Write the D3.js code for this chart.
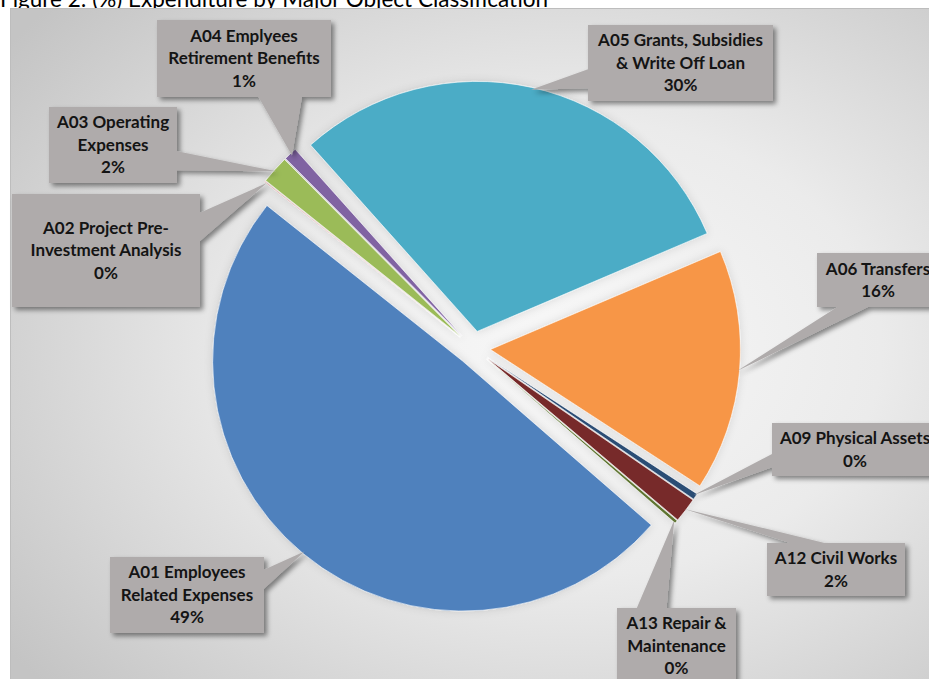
<!DOCTYPE html>
<html>
<head>
<meta charset="utf-8">
<script src="https://cdn.jsdelivr.net/npm/d3@7"></script>
<style>
  body { margin: 0; background: #fff; }
  svg { display: block; }
</style>
</head>
<body>
<div id="canvas"></div>
<script>
"use strict"

/* Data (percent of total expenditure) */
let categories = [
    "A01 Employees\nRelated Expenses",
    "A02 Project Pre-\nInvestment Analysis",
    "A03 Operating\nExpenses",
    "A04 Emplyees\nRetirement Benefits",
    "A05 Grants, Subsidies\n& Write Off Loan",
    "A06 Transfers",
    "A09 Physical Assets",
    "A12 Civil Works",
    "A13 Repair &\nMaintenance"
];
let values = [49.3, 0.05, 1.8, 0.85, 30.2, 15.6, 0.4, 1.6, 0.2];
let colors = ["#4f81bd", "#c0504d", "#9bbb59", "#8064a2", "#4bacc6",
              "#f79646", "#2c4d75", "#772c2a", "#5f7530"];

/* Where each data label box sits (left, top, width, height) */
let labelBoxes = [
    [110, 557, 154, 76],
    [12, 194, 188, 113],
    [49, 107, 128, 76],
    [157, 20, 174, 77],
    [588, 25, 185, 76],
    [817, 253, 122, 54],
    [772, 423, 166, 53],
    [767, 543, 138, 53],
    [617, 608, 119, 76]
];

let width = 929, height = 679;

let drawing = d3.select("#canvas")
    .append("svg")
    .attr("width", width)
    .attr("height", height);

let defs = drawing.append("defs");

/* Background gradient for the chart area */
let bg = defs.append("radialGradient")
    .attr("id", "bgGrad")
    .attr("cx", "0.6").attr("cy", "0.5").attr("r", "0.75");
bg.append("stop").attr("offset", "0%").attr("stop-color", "#f8f8f8");
bg.append("stop").attr("offset", "45%").attr("stop-color", "#ebebeb");
bg.append("stop").attr("offset", "100%").attr("stop-color", "#c4c4c4");

/* Shadows */
let boxShadow = defs.append("filter").attr("id", "boxShadow")
    .attr("x", "-20%").attr("y", "-20%").attr("width", "140%").attr("height", "140%");
boxShadow.append("feDropShadow")
    .attr("dx", 3).attr("dy", 3).attr("stdDeviation", 2.5)
    .attr("flood-color", "#000").attr("flood-opacity", 0.45);

let sliceShadow = defs.append("filter").attr("id", "sliceShadow")
    .attr("x", "-20%").attr("y", "-20%").attr("width", "140%").attr("height", "140%");
sliceShadow.append("feDropShadow")
    .attr("dx", 0).attr("dy", 0).attr("stdDeviation", 4)
    .attr("flood-color", "#000").attr("flood-opacity", 0.12);

/* Title (partly cut off at top, as in the original) */
drawing.append("text")
    .attr("x", 0)
    .attr("y", 7)
    .attr("font-family", "Lato, 'Open Sans', sans-serif")
    .attr("font-size", 22.5)
    .attr("fill", "#000")
    .text("Figure 2: (%) Expenditure by Major Object Classification");

/* Chart area */
let chartArea = drawing.append("rect")
    .attr("x", 10.5)
    .attr("y", 8.5)
    .attr("width", width)
    .attr("height", height)
    .attr("fill", "url(#bgGrad)")
    .attr("stroke", "#bdbdbd")
    .attr("stroke-width", 1);

/* Pie */
let cx = 473.5, cy = 348, radius = 250, explode = 17;
let startDeg = 131;

let pie = d3.pie()
    .sort(null)
    .value(d => d)
    .startAngle(startDeg * Math.PI / 180)
    .endAngle((startDeg + 360) * Math.PI / 180);

let arc = d3.arc()
    .innerRadius(0)
    .outerRadius(radius);

let slices = pie(values);

function midAngle(d) { return (d.startAngle + d.endAngle) / 2; }
function sliceOrigin(d) {
    let a = midAngle(d);
    return [cx + explode * Math.sin(a), cy - explode * Math.cos(a)];
}

let pieGroup = drawing.append("g").attr("filter", "url(#sliceShadow)");

pieGroup.selectAll("path.slice")
    .data(slices)
    .enter()
    .append("path")
    .attr("class", "slice")
    .attr("transform", d => "translate(" + sliceOrigin(d) + ")")
    .attr("d", arc)
    .attr("fill", (d, i) => colors[i])
    .attr("stroke", "#ffffff")
    .attr("stroke-width", 0.6);

/* Callout shape: rectangle with a wedge pointing at the slice (Excel style) */
function calloutPath(box, tip) {
    let l = box[0], t = box[1], w = box[2], h = box[3];
    let r = l + w, b = t + h;
    let hc = l + w / 2, vc = t + h / 2;
    let dx = tip[0] - hc, dy = tip[1] - vc;
    let dq = dx * h / w;
    let p = "M" + l + "," + t;
    if (Math.abs(dy) > Math.abs(dq)) {
        let x1 = l + w * (dx > 0 ? 7 : 2) / 12;
        let x2 = l + w * (dx > 0 ? 10 : 5) / 12;
        if (dy < 0) {
            p += "L" + x1 + "," + t + "L" + tip + "L" + x2 + "," + t;
            p += "L" + r + "," + t + "L" + r + "," + b + "L" + l + "," + b + "Z";
        } else {
            p += "L" + r + "," + t + "L" + r + "," + b;
            p += "L" + x2 + "," + b + "L" + tip + "L" + x1 + "," + b;
            p += "L" + l + "," + b + "Z";
        }
    } else {
        let y1 = t + h * (dy > 0 ? 7 : 2) / 12;
        let y2 = t + h * (dy > 0 ? 10 : 5) / 12;
        if (dx > 0) {
            p += "L" + r + "," + t + "L" + r + "," + y1 + "L" + tip + "L" + r + "," + y2;
            p += "L" + r + "," + b + "L" + l + "," + b + "Z";
        } else {
            p += "L" + r + "," + t + "L" + r + "," + b + "L" + l + "," + b;
            p += "L" + l + "," + y2 + "L" + tip + "L" + l + "," + y1 + "Z";
        }
    }
    return p;
}

let labels = drawing.append("g");
let lineGap = 22.5;

slices.forEach(function (d, i) {
    let a = midAngle(d);
    let o = sliceOrigin(d);
    let tip = [o[0] + radius * 0.99 * Math.sin(a), o[1] - radius * 0.99 * Math.cos(a)];
    let box = labelBoxes[i];

    labels.append("path")
        .attr("d", calloutPath(box, tip))
        .attr("fill", "#afabab")
        .attr("filter", "url(#boxShadow)");

    let lines = categories[i].split("\n");
    lines.push(Math.round(values[i]) + "%");
    let top = box[1] + box[3] / 2 - (lines.length - 1) * lineGap / 2;

    let txt = labels.append("text")
        .attr("text-anchor", "middle")
        .attr("font-family", "Lato, 'Open Sans', sans-serif")
        .attr("font-weight", 700)
        .attr("font-size", 17)
        .attr("fill", "#141414");

    lines.forEach(function (line, j) {
        txt.append("tspan")
            .attr("x", box[0] + box[2] / 2)
            .attr("y", top + j * lineGap)
            .attr("dy", "0.35em")
            .text(line);
    });
});
</script>
</body>
</html>
